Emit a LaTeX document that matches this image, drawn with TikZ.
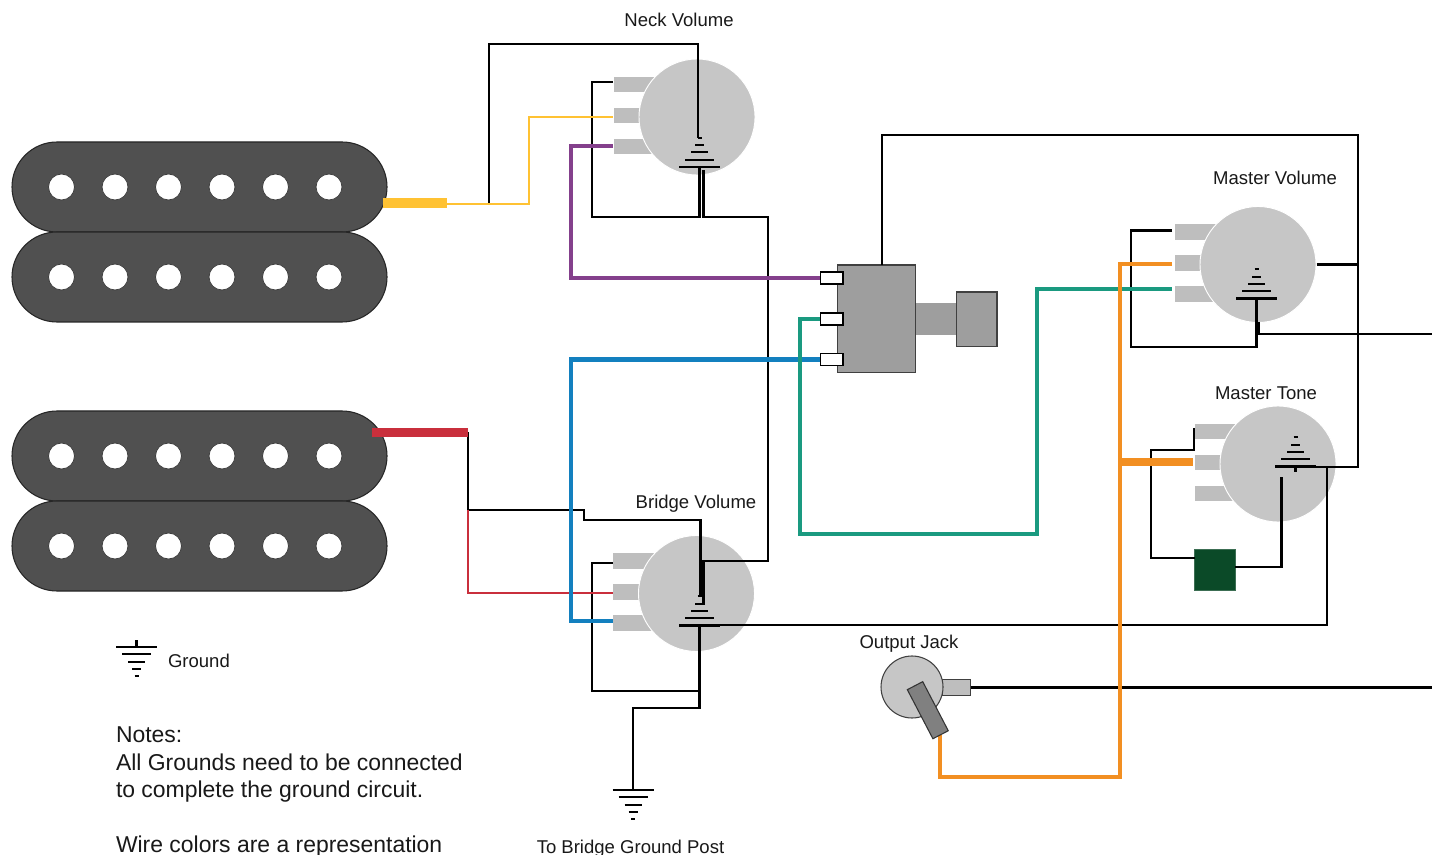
\documentclass[tikz,border=0pt]{standalone}
\usepackage{fontspec}
\setmainfont{Liberation Sans}
\definecolor{pickupc}{HTML}{505050}
\definecolor{potc}{HTML}{C6C6C6}
\definecolor{tabc}{HTML}{BEBEBE}
\definecolor{swc}{HTML}{9E9E9E}
\definecolor{yelc}{HTML}{FFC233}
\definecolor{redc}{HTML}{C92F3C}
\definecolor{purc}{HTML}{84408C}
\definecolor{bluc}{HTML}{1380BF}
\definecolor{teac}{HTML}{1A9A80}
\definecolor{orac}{HTML}{F28F22}
\definecolor{grnc}{HTML}{0B4A28}
\tikzset{
  x=0.75pt,y=-0.75pt,
  every node/.style={inner sep=0pt,outer sep=0pt},
  coil/.style={rectangle,rounded corners=33.75pt,minimum width=281.25pt,minimum height=67.5pt,fill=pickupc,draw=black!85,line width=0.8pt},
  pole/.style={circle,minimum size=19.5pt,fill=white,draw=black!75,line width=0.6pt},
  pot/.style={circle,minimum size=87pt,fill=potc,draw=white,line width=0.7pt},
  lug/.style={rectangle,minimum width=37.5pt,minimum height=12.4pt,anchor=west,fill=tabc,draw=white,line width=0.4pt},
  swlug/.style={rectangle,minimum width=17pt,minimum height=9pt,fill=white,draw=black,line width=1pt},
  swbody/.style={rectangle,fill=swc,draw=black!75,line width=1pt},
  wire/.style={draw=black,line width=1.7pt,line join=miter},
  thinc/.style={line width=1.6pt,line join=miter},
  fatc/.style={line width=3.2pt,line join=miter},
  gndl/.style={draw=black,line width=1.6pt},
  lab/.style={font=\fontsize{13.9}{16}\selectfont,text=black!90,anchor=base},
  note/.style={font=\fontsize{17.2}{20}\selectfont,text=black!90,anchor=base west}
}
% pot: name, cx, cy
\newcommand{\potgroup}[3]{%
  \node[lug] (#1a) at (#2-84,#3-32.5) {};
  \node[lug] (#1b) at (#2-84,#3-1.5) {};
  \node[lug] (#1c) at (#2-84,#3+29.5) {};
  \node[pot] (#1) at (#2,#3) {};
}
% ground: name, cx, y of the widest bar
\newcommand{\gndsym}[3]{%
  \coordinate (#1) at (#2,#3);
  \draw[gndl] (#2-20.5,#3) -- (#2+20.5,#3);
  \draw[gndl] (#2-14.5,#3-7.3) -- (#2+14.5,#3-7.3);
  \draw[gndl] (#2-8.5,#3-14.6) -- (#2+8.5,#3-14.6);
  \draw[gndl] (#2-4.5,#3-21.9) -- (#2+4.5,#3-21.9);
  \draw[gndl] (#2-2,#3-29.2) -- (#2+2,#3-29.2);
}
% inverted ground: name, cx, y of the widest bar
\newcommand{\gnddown}[3]{%
  \coordinate (#1) at (#2,#3);
  \draw[gndl] (#2-20.5,#3) -- (#2+20.5,#3);
  \draw[gndl] (#2-14.5,#3+7.3) -- (#2+14.5,#3+7.3);
  \draw[gndl] (#2-8.5,#3+14.6) -- (#2+8.5,#3+14.6);
  \draw[gndl] (#2-4.5,#3+21.9) -- (#2+4.5,#3+21.9);
  \draw[gndl] (#2-2,#3+29.2) -- (#2+2,#3+29.2);
}
% pickup: name, y of the centre of its upper coil
\newcommand{\pickup}[2]{%
  \node[coil] (#1u) at (199.5,#2) {};
  \node[coil] (#1l) at (199.5,#2+90) {};
  \foreach \px [count=\i] in {61.5,115,168.5,222,275.5,329}{
    \node[pole] (#1u\i) at (\px,#2) {};
    \node[pole] (#1l\i) at (\px,#2+90) {};
  }
}
\begin{document}
\begin{tikzpicture}
\path[use as bounding box,clip] (0,0) rectangle (1432,855);
\fill[white] (0,0) rectangle (1432,855);

\pickup{neck}{187}
\pickup{bridge}{456}

\potgroup{nv}{697}{117}
\potgroup{bv}{696.5}{593.5}
\potgroup{mv}{1258}{264.5}
\potgroup{mt}{1278}{464}

% grounds on the pots
\gndsym{gnv}{699.5}{167}
\gndsym{gbv}{699.5}{625.5}
\gndsym{gmv}{1256.5}{298.5}
\gndsym{gmt}{1295.5}{466.5}

% selector switch
\node[rectangle,fill=swc,minimum width=31.5pt,minimum height=24pt] (shaft) at (936,319) {};
\node[swbody,minimum width=58.5pt,minimum height=80.6pt] (sw) at (876.5,318.75) {};
\node[swbody,minimum width=30.4pt,minimum height=41pt] (knob) at (976.75,319.5) {};
\node[swlug] (swa) at (831.5,278) {};
\node[swlug] (swb) at (831.5,319) {};
\node[swlug] (swc) at (831.5,359.5) {};

% tone capacitor
\node[rectangle,fill=grnc,draw=grnc!80!white,line width=0.5pt,minimum size=30.7pt] (cap) at (1215,570) {};

% output jack
\node[rectangle,fill=tabc,draw=black!75,line width=0.8pt,minimum width=21pt,minimum height=11.5pt] (jtab) at (956.5,687.5) {};
\node[circle,fill=potc,draw=black!75,line width=0.8pt,minimum size=46.5pt] (jack) at (912,687) {};

% named wire ends
\coordinate (yelend) at (447,204);
\coordinate (redend) at (468,432.5);
\coordinate (rightA) at (1432,334);
\coordinate (rightB) at (1432,687.5);
\coordinate (mtj) at (1313,467);

% black wires
\draw[wire] (yelend) -- (489,204) -- (489,44) -- (698,44) -- (698,138);
\draw[wire] (nva.west |- 0,82) -- (592,82) -- (592,217) -- (699.5,217) -- (gnv);
\draw[wire] (703.5,170) -- (703.5,217) -- (768,217) -- (768,561) -- (703.5,561) -- (703.5,605);
\draw[wire] (redend) -- (468,510) -- (584,510) -- (584,520) -- (700.5,520) -- (700.5,597);
\draw[wire] (bva.west |- 0,563) -- (592,563) -- (592,691) -- (699.5,691);
\draw[wire] (gbv) -- (699.5,708) -- (633,708) -- (633,790);
\gnddown{gpost}{633}{790}
\draw[wire] (720,625) -- (1327,625) -- (1327,467);
\draw[wire] (mtj) -- (1358,467) -- (1358,135) -- (882,135) -- (882,265);
\draw[wire] (1316.5,264.5) -- (1358,264.5);
\draw[wire] (mva.west |- 0,230.5) ++(-2,0) -- (1131,230.5) -- (1131,347) -- (1256.5,347) -- (gmv);
\draw[black,line width=2.4pt] (1258,322) -- (1258,334);
\draw[wire] (1258,334) -- (rightA);
\draw[wire] (jtab.east) -- (rightB);
\draw[wire] (1194,428) -- (1194,450) -- (1151,450) -- (1151,558) -- (cap.west |- 0,558);
\draw[wire] (cap.east |- 0,567) -- (1281.5,567) -- (1281.5,477);
\draw[gndl] (gmt) -- (1295.5,472);

% coloured wires
\draw[yelc,thinc] (yelend) -- (529,204) -- (529,117) -- (nvb.west |- 0,117);
\draw[yelc,line width=7.5pt] (383,203) -- (447,203);
\draw[redc,thinc] (468,510) -- (468,593) -- (bvb.west |- 0,593);
\draw[redc,line width=6.8pt] (372,432.5) -- (redend);
\draw[purc,fatc] (nvc.west |- 0,146) -- (571,146) -- (571,278) -- (swa.west);
\draw[bluc,fatc] (bvc.west |- 0,621) -- (571,621) -- (571,359.5) -- (swc.west);
\draw[teac,fatc] (swb.west) -- (800,319) -- (800,534) -- (1037,534) -- (1037,289) -- (1172,289);
\draw[orac,fatc] (1172,264) -- (1120,264) -- (1120,777) -- (940,777) -- (940,735);
\draw[orac,line width=5.4pt] (1120,462) -- (1193,462);
\node[rectangle,fill=black!50,draw=black!80,line width=0.8pt,minimum width=13pt,minimum height=41.5pt,rotate=27.5] (jlug) at (927.8,710.2) {};

% legend
\draw[gndl] (136.5,640) -- (136.5,647);
\gnddown{glegend}{136.5}{647}

% labels
\node[lab] (lneck) at (679,27) {Neck Volume};
\node[lab] (lmv) at (1275,185) {Master Volume};
\node[lab] (lmt) at (1266,400) {Master Tone};
\node[lab] (lbv) at (696,508.5) {Bridge Volume};
\node[lab] (ljack) at (909,648) {Output Jack};
\node[lab] (lpost) at (630.5,853) {To Bridge Ground Post};
\node[lab,anchor=base west] (lgnd) at (168,667) {Ground};
\node[note] (n1) at (116,742) {Notes:};
\node[note] (n2) at (116,770) {All Grounds need to be connected};
\node[note] (n3) at (116,797.5) {to complete the ground circuit.};
\node[note] (n4) at (116,852) {Wire colors are a representation};
\end{tikzpicture}
\end{document}
